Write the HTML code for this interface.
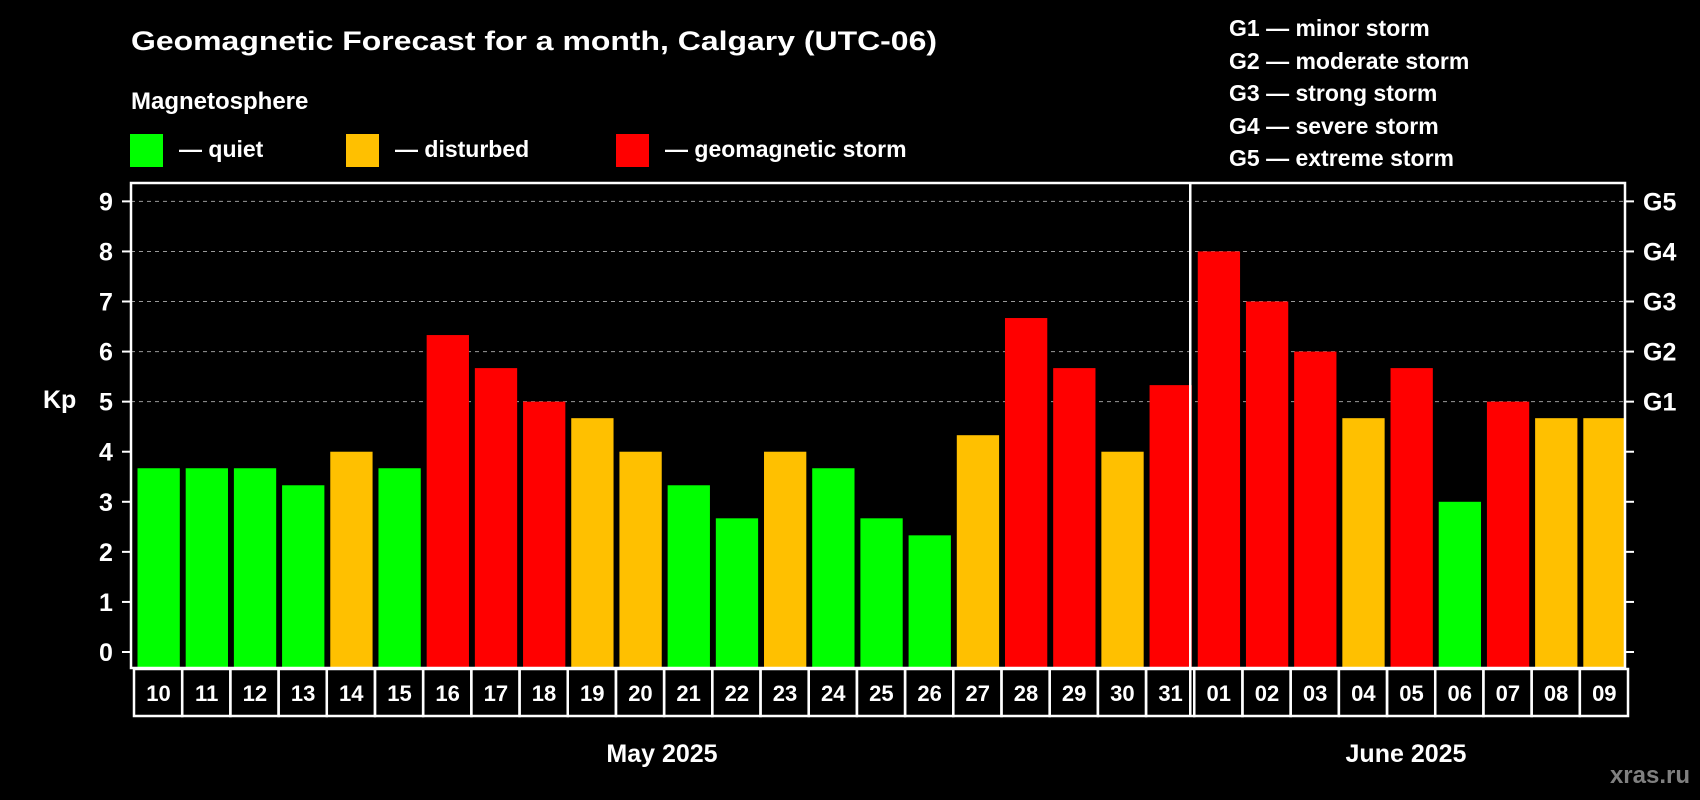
<!DOCTYPE html>
<html><head><meta charset="utf-8"><style>
html,body{margin:0;padding:0;background:#000;}
svg{display:block;font-family:"Liberation Sans",Arial,sans-serif;font-weight:bold;}
</style></head><body>
<svg id="chart" width="1700" height="800" viewBox="0 0 1700 800">
<rect x="0" y="0" width="1700" height="800" fill="#000"/>
<text x="131" y="50" font-size="27" fill="#fff" textLength="806" lengthAdjust="spacingAndGlyphs">Geomagnetic Forecast for a month, Calgary (UTC-06)</text>
<text x="131" y="109" font-size="24" fill="#fff">Magnetosphere</text>
<g><rect x="130" y="134" width="33" height="33" fill="#00ff00"/><text x="179" y="157" font-size="23" fill="#fff">— quiet</text></g>
<g><rect x="346" y="134" width="33" height="33" fill="#ffc000"/><text x="395" y="157" font-size="23" fill="#fff">— disturbed</text></g>
<g><rect x="616" y="134" width="33" height="33" fill="#ff0000"/><text x="665" y="157" font-size="23" fill="#fff">— geomagnetic storm</text></g>
<g font-size="23" fill="#fff">
<text x="1229" y="36">G1 — minor storm</text>
<text x="1229" y="69">G2 — moderate storm</text>
<text x="1229" y="101">G3 — strong storm</text>
<text x="1229" y="134">G4 — severe storm</text>
<text x="1229" y="166">G5 — extreme storm</text>
</g>
<g id="plot"></g>
<text x="43" y="408" font-size="25" fill="#fff">Kp</text>
<text x="662" y="762" font-size="25" fill="#fff" text-anchor="middle">May 2025</text>
<text x="1406" y="762" font-size="25" fill="#fff" text-anchor="middle">June 2025</text>
<text x="1690" y="783" font-size="24" fill="#808080" text-anchor="end">xras.ru</text>
</svg>
<script>
const days=["10","11","12","13","14","15","16","17","18","19","20","21","22","23","24","25","26","27","28","29","30","31","01","02","03","04","05","06","07","08","09"];
const kpValues=[3.67,3.67,3.67,3.33,4,3.67,6.33,5.67,5,4.67,4,3.33,2.67,4,3.67,2.67,2.33,4.33,6.67,5.67,4,5.33,8,7,6,4.67,5.67,3,5,4.67,4.67];
const levels=["q","q","q","q","d","q","s","s","s","d","d","q","q","d","q","q","q","d","s","s","d","s","s","s","s","d","s","q","s","d","d"];
const yTicks=[0,1,2,3,4,5,6,7,8,9];
const gLabels=["G1","G2","G3","G4","G5"];
const gValues=[5,6,7,8,9];
const NS="http://www.w3.org/2000/svg";
const X0=131,X1=1625,TOP=183,BOT=668;
const slot=(X1-X0)/days.length;
const xs=i=>X0+slot*i;
const ys=v=>652-v*50.07;
const colors={q:"#00ff00",d:"#ffc000",s:"#ff0000"};
const g=document.getElementById("plot");
function mk(t,a){const e=document.createElementNS(NS,t);for(const k in a)e.setAttribute(k,a[k]);g.appendChild(e);return e;}
gValues.forEach(v=>{
 const l=mk("line",{x1:X0,x2:X1,y1:ys(v),y2:ys(v),stroke:"#999","stroke-width":1,"stroke-dasharray":"4,4"});
 
 
});
days.forEach((d,i)=>{
 const r=mk("rect",{x:xs(i)+6.5,y:ys(kpValues[i]),width:42.3,height:BOT-ys(kpValues[i]),fill:colors[levels[i]]});
 
 
 const b=mk("rect",{x:xs(i)+3,y:669,width:48.2,height:47,fill:"none",stroke:"#fff","stroke-width":2.5});
 
 
 const t=mk("text",{x:xs(i)+27.5,y:701,"font-size":22,fill:"#fff","text-anchor":"middle"});
 t.textContent=d;
 
 
});
const frame=mk("rect",{x:X0,y:TOP,width:X1-X0,height:BOT-TOP,fill:"none",stroke:"#fff","stroke-width":2.5});


const sep=mk("line",{x1:xs(22)-1,x2:xs(22)-1,y1:TOP,y2:716,stroke:"#fff","stroke-width":2.5});


yTicks.forEach(v=>{
 const a=mk("line",{x1:122,x2:X0,y1:ys(v),y2:ys(v),stroke:"#fff","stroke-width":2});
 
 
 const b=mk("line",{x1:X1,x2:1634,y1:ys(v),y2:ys(v),stroke:"#fff","stroke-width":2});
 
 
 const t=mk("text",{x:106,y:ys(v)+9,"font-size":25,fill:"#fff","text-anchor":"middle"});
 t.textContent=v;
 
 
});
gLabels.forEach((s,i)=>{
 const t=mk("text",{x:1643,y:ys(gValues[i])+9,"font-size":25,fill:"#fff"});
 t.textContent=s;
 
 
});
</script>
</body></html>
